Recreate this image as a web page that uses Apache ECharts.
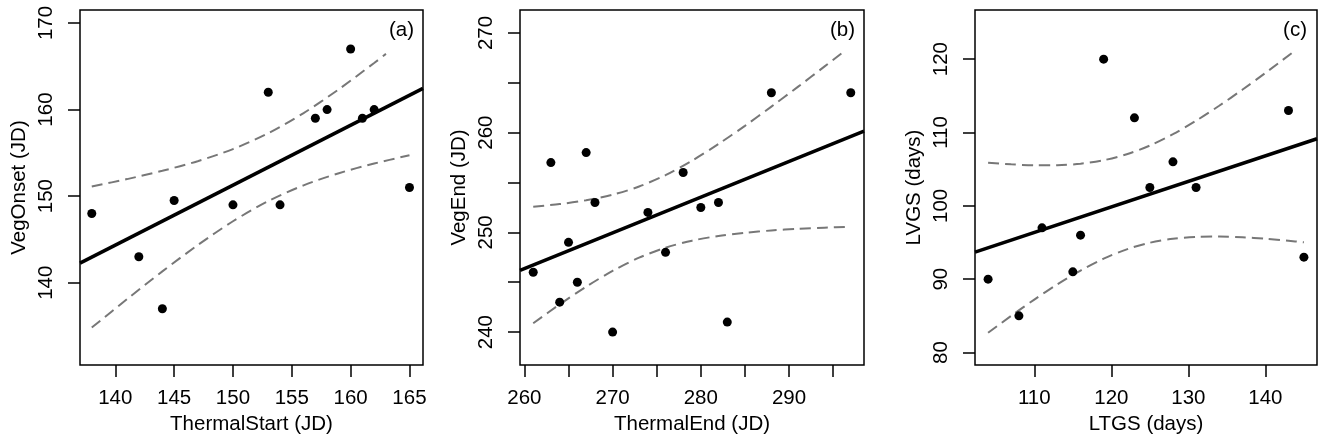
<!DOCTYPE html>
<html>
<head>
<meta charset="utf-8">
<script src="https://cdn.jsdelivr.net/npm/echarts@6/dist/echarts.min.js"></script>
<style>html,body{margin:0;padding:0;background:#fff;}#c{width:1319px;height:443px;}</style>
</head>
<body>
<div id="c"></div>
<script>
// ---------- Panel (a): ThermalStart vs VegOnset ----------
const xA = [138, 142, 144, 145, 150, 153, 154, 157, 158, 160, 161, 162, 165];
const yA = [148, 143, 137, 149.5, 149, 162, 149, 159, 160, 167, 159, 160, 151];
const fitXA = [137.0, 166.15];
const fitYA = [142.27, 162.45];
const upXA = [138, 141, 144, 147, 150, 153, 156, 159, 162, 163];
const upYA = [151.11, 151.97, 152.93, 154.04, 155.44, 157.27, 159.59, 162.35, 165.38, 166.43];
const loXA = [138, 141, 144, 147, 150, 153, 156, 159, 162, 165];
const loYA = [134.82, 138.11, 141.31, 144.34, 147.10, 149.43, 151.25, 152.65, 153.77, 154.72];
const xTicksA = [140, 145, 150, 155, 160, 165];
const xLabelsA = [140, 145, 150, 155, 160, 165];
const yTicksA = [140, 150, 160, 170];
const yLabelsA = [140, 150, 160, 170];

// ---------- Panel (b): ThermalEnd vs VegEnd ----------
const xB = [261, 263, 264, 265, 266, 267, 268, 270, 274, 276, 278, 280, 282, 283, 288, 297];
const yB = [246, 257, 243, 249, 245, 258, 253, 240, 252, 248, 256, 252.5, 253, 241, 264, 264];
const fitXB = [259.5, 298.5];
const fitYB = [246.20, 260.15];
const upXB = [261, 264, 267, 270, 273, 276, 279, 282, 285, 288, 291, 294, 296];
const upYB = [252.58, 252.84, 253.22, 253.78, 254.60, 255.74, 257.19, 258.86, 260.68, 262.61, 264.59, 266.62, 267.99];
const loXB = [261, 264, 267, 270, 273, 276, 279, 282, 285, 288, 291, 294, 297];
const loYB = [240.89, 242.78, 244.55, 246.14, 247.46, 248.46, 249.17, 249.64, 249.96, 250.19, 250.35, 250.47, 250.56];
const xTicksB = [260, 265, 270, 275, 280, 285, 290, 295];
const xLabelsB = [260, 270, 280, 290];
const yTicksB = [240, 245, 250, 255, 260, 265, 270];
const yLabelsB = [240, 250, 260, 270];

// ---------- Panel (c): LTGS vs LVGS ----------
const xC = [104, 108, 111, 115, 116, 119, 123, 125, 128, 131, 143, 145];
const yC = [90, 85, 97, 91, 96, 120, 112, 102.5, 106, 102.5, 113, 93];
const fitXC = [102.3, 146.7];
const fitYC = [93.69, 109.15];
const upXC = [104, 107, 110, 113, 116, 119, 122, 125, 128, 131, 134, 137, 140, 143.8];
const upYC = [105.88, 105.66, 105.53, 105.54, 105.74, 106.22, 107.03, 108.22, 109.77, 111.60, 113.64, 115.83, 118.12, 121.13];
const loXC = [104, 107, 110, 113, 116, 119, 122, 125, 128, 131, 134, 137, 140, 143, 145];
const loYC = [82.69, 85.00, 87.22, 89.30, 91.18, 92.80, 94.07, 94.97, 95.51, 95.77, 95.82, 95.72, 95.51, 95.24, 95.02];
const xTicksC = [110, 120, 130, 140];
const xLabelsC = [110, 120, 130, 140];
const yTicksC = [80, 90, 100, 110, 120];
const yLabelsC = [80, 90, 100, 110, 120];

const xNames = ['ThermalStart (JD)', 'ThermalEnd (JD)', 'LTGS (days)'];
const yNames = ['VegOnset (JD)', 'VegEnd (JD)', 'LVGS (days)'];
const panelTags = ['(a)', '(b)', '(c)'];

const FONT = 'Liberation Sans, Arial, sans-serif';
const FS = 20.5;

function zip(xs, ys) { return xs.map((x, i) => [x, ys[i]]); }

const panels = [
  { x: xA, y: yA, fx: fitXA, fy: fitYA, ux: upXA, uy: upYA, lx: loXA, ly: loYA,
    xr: [137.0, 166.15], yr: [130.5, 171.5], xt: xTicksA, xl: xLabelsA, yt: yTicksA, yl: yLabelsA,
    grid: { left: 80, top: 10, width: 343, height: 355 }, tagRight: 905 },
  { x: xB, y: yB, fx: fitXB, fy: fitYB, ux: upXB, uy: upYB, lx: loXB, ly: loYB,
    xr: [259.5, 298.5], yr: [236.7, 272.3], xt: xTicksB, xl: xLabelsB, yt: yTicksB, yl: yLabelsB,
    grid: { left: 520, top: 10, width: 344, height: 355 }, tagRight: 464 },
  { x: xC, y: yC, fx: fitXC, fy: fitYC, ux: upXC, uy: upYC, lx: loXC, ly: loYC,
    xr: [102.3, 146.7], yr: [78.3, 126.7], xt: xTicksC, xl: xLabelsC, yt: yTicksC, yl: yLabelsC,
    grid: { left: 975, top: 10, width: 342, height: 355 }, tagRight: 12 }
];

const option = {
  animation: false,
  backgroundColor: '#ffffff',
  textStyle: { fontFamily: FONT },
  title: panels.map((p, i) => ({
    text: panelTags[i], right: p.tagRight, top: 20, padding: 0,
    textStyle: { fontFamily: FONT, fontSize: FS, fontWeight: 'normal', color: '#000' }
  })),
  grid: panels.map(p => Object.assign({ show: true, borderColor: '#000', borderWidth: 1.5, backgroundColor: 'transparent', containLabel: false }, p.grid)),
  xAxis: panels.map((p, i) => ({
    type: 'value', gridIndex: i, min: p.xr[0], max: p.xr[1],
    name: xNames[i], nameLocation: 'middle', nameGap: 46,
    nameTextStyle: { fontFamily: FONT, fontSize: FS, color: '#000' },
    axisLine: { show: false },
    axisTick: { show: true, length: 12, customValues: p.xt, lineStyle: { color: '#000', width: 1.5 } },
    axisLabel: { customValues: p.xl, margin: 23, fontFamily: FONT, fontSize: FS, color: '#000' },
    splitLine: { show: false }
  })),
  yAxis: panels.map((p, i) => ({
    type: 'value', gridIndex: i, min: p.yr[0], max: p.yr[1],
    name: yNames[i], nameLocation: 'middle', nameGap: 50, nameRotate: 90,
    nameTextStyle: { fontFamily: FONT, fontSize: FS, color: '#000' },
    axisLine: { show: false },
    axisTick: { show: true, length: 12, customValues: p.yt, lineStyle: { color: '#000', width: 1.5 } },
    axisLabel: { customValues: p.yl, rotate: 90, margin: 23, fontFamily: FONT, fontSize: FS, color: '#000' },
    splitLine: { show: false }
  })),
  series: []
};

panels.forEach((p, i) => {
  option.series.push({
    type: 'line', xAxisIndex: i, yAxisIndex: i, data: zip(p.ux, p.uy),
    showSymbol: false, smooth: 0.3,
    lineStyle: { color: '#777777', width: 2, type: [11, 6] }, z: 2
  });
  option.series.push({
    type: 'line', xAxisIndex: i, yAxisIndex: i, data: zip(p.lx, p.ly),
    showSymbol: false, smooth: 0.3,
    lineStyle: { color: '#777777', width: 2, type: [11, 6] }, z: 2
  });
  option.series.push({
    type: 'scatter', xAxisIndex: i, yAxisIndex: i, data: zip(p.x, p.y),
    symbol: 'circle', symbolSize: 9, itemStyle: { color: '#000', opacity: 1 }, z: 3
  });
  option.series.push({
    type: 'line', xAxisIndex: i, yAxisIndex: i, data: zip(p.fx, p.fy),
    showSymbol: false, lineStyle: { color: '#000', width: 3.5 }, z: 4
  });
});

const chart = echarts.init(document.getElementById('c'), null, { renderer: 'canvas' });
chart.setOption(option);
</script>
</body>
</html>
